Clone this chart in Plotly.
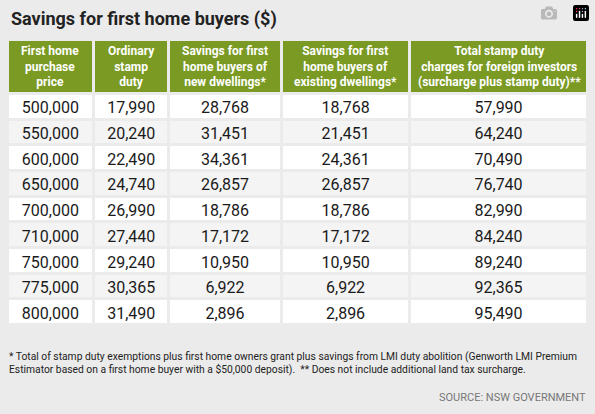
import plotly.graph_objects as go

headers = ["<b>First home<br>purchase<br>price</b>", "<b>Ordinary<br>stamp<br>duty</b>",
           "<b>Savings for first<br>home buyers of<br>new dwellings*</b>",
           "<b>Savings for first<br>home buyers of<br>existing dwellings*</b>",
           "<b>Total stamp duty<br>charges for foreign investors<br>(surcharge plus stamp duty)**</b>"]
price = ["500,000","550,000","600,000","650,000","700,000","710,000","750,000","775,000","800,000"]
stamp = ["17,990","20,240","22,490","24,740","26,990","27,440","29,240","30,365","31,490"]
new_d = ["28,768","31,451","34,361","26,857","18,786","17,172","10,950","6,922","2,896"]
exist_d = ["18,768","21,451","24,361","26,857","18,786","17,172","10,950","6,922","2,896"]
foreign = ["57,990","64,240","70,490","76,740","82,990","84,240","89,240","92,365","95,490"]

BG = "#ebebeb"
fills = ["#ffffff" if i % 2 == 0 else "#f4f4f4" for i in range(len(price))]
font = "Roboto, sans-serif"
colw = [84, 73, 109, 125, 172]
x0, x1 = 0.012, 0.988
y0, y1 = 0.2, 0.905
hdr_h = 54

fig = go.Figure(go.Table(
    columnwidth=colw,
    domain=dict(x=[x0, x1], y=[y0, y1]),
    header=dict(values=[""] * 5, fill_color="#7a9a23", line=dict(color=BG, width=3), height=hdr_h),
    cells=dict(values=[price, stamp, new_d, exist_d, foreign],
               fill_color=[fills] * 5, line=dict(color=BG, width=3),
               font=dict(color="#1a1a1a", size=16, family=font), align="center", height=25.7),
))

annots = []
tot = sum(colw)
acc = 0
for w, h in zip(colw, headers):
    cx = x0 + (x1 - x0) * (acc + w / 2) / tot
    acc += w
    annots.append(dict(text=h, x=cx, y=y1 - (hdr_h / 2) / 414, xref="paper", yref="paper",
                       xanchor="center", yanchor="middle", align="center", showarrow=False,
                       font=dict(size=12, color="white", family=font)))

annots += [
    dict(text="<b>Savings for first home buyers ($)</b>", x=0.015, y=1 - 19/414, xref="paper", yref="paper",
         xanchor="left", yanchor="middle", showarrow=False, font=dict(size=18, color="#222", family=font)),
    dict(text="* Total of stamp duty exemptions plus first home owners grant plus savings from LMI duty abolition (Genworth LMI Premium<br>"
               "Estimator based on a first home buyer with a $50,000 deposit).  ** Does not include additional land tax surcharge.",
         x=0.012, y=1 - 363/414, xref="paper", yref="paper", xanchor="left", yanchor="middle", align="left",
         showarrow=False, font=dict(size=10.3, color="#222", family=font)),
    dict(text="SOURCE: NSW GOVERNMENT", x=0.988, y=1 - 397/414, xref="paper", yref="paper",
         xanchor="right", yanchor="middle", showarrow=False, font=dict(size=11, color="#777", family=font)),
]

fig.update_layout(width=595, height=414, paper_bgcolor=BG, margin=dict(l=0, r=0, t=0, b=0),
                  annotations=annots)
fig.write_html("out.html", post_script="document.body.style.margin='0';document.body.style.overflow='hidden';")
